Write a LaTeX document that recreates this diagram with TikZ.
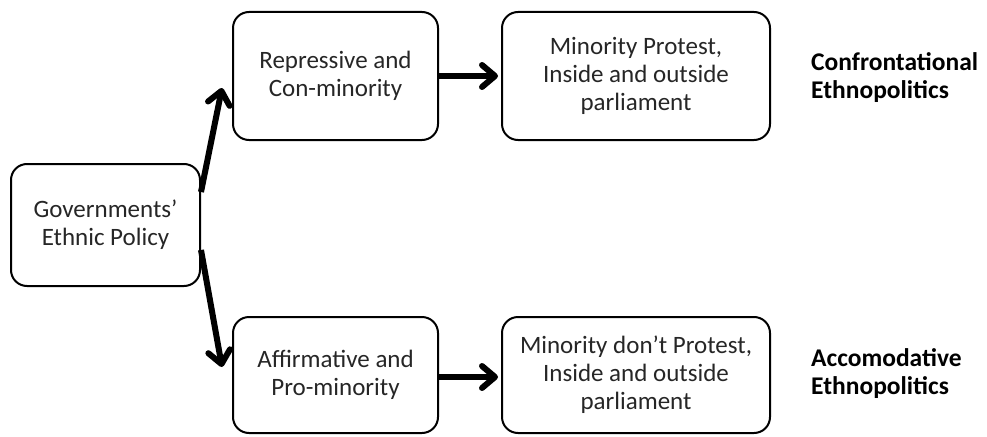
\documentclass[tikz,border=0pt]{standalone}
\usepackage{fontspec}
\setmainfont{Carlito}
\usetikzlibrary{arrows.meta}
\begin{document}
\begin{tikzpicture}[x=1pt,y=-1pt,
  box/.style={draw=black,line width=2pt,rounded corners=16pt,align=center,
    font=\fontsize{25}{28}\selectfont,text=black!85,inner sep=0pt},
  arr/.style={line width=6pt,-{Straight Barb[length=13pt,width=22pt,line cap=round,round]}},
  lbl/.style={anchor=west,align=left,inner sep=0pt,font=\fontsize{25.5}{28}\selectfont\bfseries}]
\useasboundingbox (0,0) rectangle (987,436);
\node[box,minimum width=189pt,minimum height=122pt] (gov) at (105.5,225) {Governments’\\Ethnic Policy};
\node[box,minimum width=205pt,minimum height=128pt] (rep) at (335.5,76) {Repressive and\\Con-minority};
\node[box,minimum width=268pt,minimum height=128pt] (prot) at (636,76) {Minority Protest,\\Inside and outside\\parliament};
\node[box,minimum width=205pt,minimum height=116pt] (aff) at (335.5,375) {Affirmative and\\Pro-minority};
\node[box,minimum width=268pt,minimum height=116pt] (noprot) at (636,375) {Minority don’t Protest,\\Inside and outside\\parliament};
\node[lbl] (conf) at (811,78) {Confrontational\\Ethnopolitics};
\node[lbl] (acc) at (811,373.5) {Accomodative\\Ethnopolitics};
\draw[arr] ([yshift=33pt]gov.east) -- ([xshift=-10pt,yshift=-12pt]rep.west);
\draw[arr] ([yshift=-25pt]gov.east) -- ([xshift=-10pt,yshift=8pt]aff.west);
\draw[arr] (rep.east) -- ([xshift=-3pt]prot.west);
\draw[arr] ([yshift=-2pt]aff.east) -- ([xshift=-3pt,yshift=-2pt]noprot.west);
\end{tikzpicture}
\end{document}
